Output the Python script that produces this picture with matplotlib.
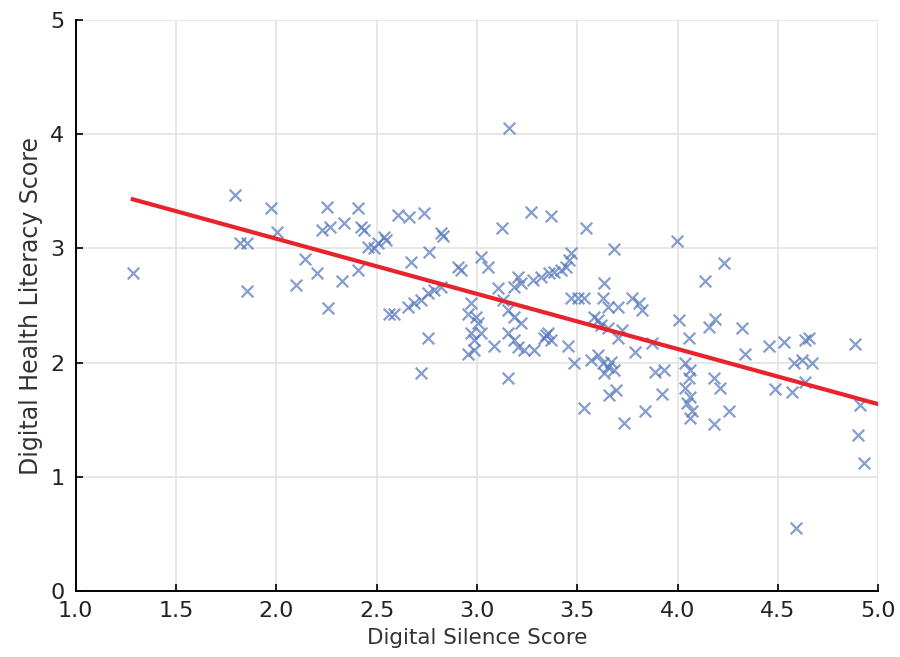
"""Scatter of digital silence vs digital health literacy with a fitted line."""

import numpy as np
from matplotlib import pyplot as plt

# values
silence_score = [
    1.285, 1.795, 1.82, 1.855, 1.855, 1.975, 2.005, 2.10, 2.145, 2.205,
    2.23, 2.255, 2.26, 2.27, 2.325, 2.335, 2.405, 2.405, 2.42, 2.435,
    2.455, 2.485, 2.505, 2.535, 2.545, 2.56, 2.585, 2.605, 2.66, 2.735,
    2.655, 2.685, 2.72, 2.755, 2.785, 2.82, 2.67, 2.76, 2.82, 2.83,
    2.755, 2.72, 2.905, 2.92, 3.02, 3.055, 2.97, 2.955, 2.995, 3.005,
    2.97, 3.02, 2.985, 2.985, 2.955, 3.085, 3.125, 3.16, 3.155, 3.185,
    3.22, 3.155, 3.185, 3.205, 3.235, 3.285, 3.155, 3.205, 3.22, 3.185,
    3.105, 3.13, 3.27, 3.37, 3.28, 3.32, 3.36, 3.385, 3.42, 3.445,
    3.46, 3.47, 3.345, 3.355, 3.335, 3.37, 3.455, 3.485, 3.47, 3.505,
    3.535, 3.545, 3.635, 3.685, 3.63, 3.655, 3.705, 3.77, 3.805, 3.82,
    3.585, 3.605, 3.62, 3.655, 3.72, 3.705, 3.785, 3.57, 3.605, 3.63,
    3.655, 3.67, 3.685, 3.635, 3.695, 3.66, 3.535, 3.73, 3.835, 3.87,
    3.885, 3.93, 3.92, 3.995, 4.005, 4.055, 4.035, 4.06, 4.055, 4.035,
    4.06, 4.045, 4.07, 4.06, 4.135, 4.155, 4.185, 4.18, 4.21, 4.23,
    4.255, 4.18, 4.32, 4.335, 4.455, 4.53, 4.485, 4.57, 4.58, 4.62,
    4.67, 4.635, 4.655, 4.635, 4.59, 4.885, 4.91, 4.90, 4.93,
]
literacy_score = [
    2.78, 3.47, 3.05, 3.05, 2.63, 3.35, 3.14, 2.68, 2.91, 2.78,
    3.16, 3.36, 2.48, 3.19, 2.71, 3.22, 3.35, 2.81, 3.19, 3.16,
    3.01, 3.00, 3.05, 3.10, 3.07, 2.43, 2.43, 3.29, 3.27, 3.31,
    2.49, 2.52, 2.55, 2.61, 2.64, 2.66, 2.88, 2.97, 3.13, 3.11,
    2.22, 1.91, 2.84, 2.81, 2.92, 2.84, 2.52, 2.43, 2.40, 2.35,
    2.26, 2.26, 2.20, 2.11, 2.08, 2.15, 3.18, 4.05, 2.46, 2.40,
    2.35, 2.26, 2.20, 2.14, 2.11, 2.11, 1.87, 2.75, 2.70, 2.66,
    2.65, 2.55, 3.32, 3.28, 2.72, 2.75, 2.78, 2.79, 2.81, 2.84,
    2.90, 2.96, 2.24, 2.26, 2.22, 2.20, 2.15, 2.00, 2.57, 2.57,
    2.57, 3.18, 2.70, 2.99, 2.57, 2.49, 2.49, 2.57, 2.52, 2.46,
    2.40, 2.37, 2.33, 2.30, 2.29, 2.22, 2.09, 2.02, 2.07, 2.00,
    1.96, 2.01, 1.94, 1.91, 1.76, 1.72, 1.60, 1.47, 1.58, 2.17,
    1.92, 1.94, 1.73, 3.06, 2.37, 2.22, 2.00, 1.94, 1.87, 1.78,
    1.70, 1.65, 1.58, 1.52, 2.71, 2.31, 2.38, 1.87, 1.78, 2.87,
    1.58, 1.46, 2.30, 2.08, 2.15, 2.18, 1.77, 1.74, 2.00, 2.02,
    2.00, 2.20, 2.22, 1.83, 0.55, 2.16, 1.63, 1.37, 1.12,
]
x_ticks = [1.0, 1.5, 2.0, 2.5, 3.0, 3.5, 4.0, 4.5, 5.0]
y_ticks = [0, 1, 2, 3, 4, 5]


def plot_scatter():
    """Draw the scatter, the least squares line and save out.png"""
    x = np.array(silence_score)
    y = np.array(literacy_score)

    fig = plt.figure(figsize=(9, 6.57), dpi=100)
    ax = fig.add_axes([0.084, 0.100, 0.892, 0.870])

    ax.scatter(x, y, marker='x', s=70, color='#5577bb', alpha=0.72,
               linewidths=1.6, zorder=3)

    # fitted regression line
    slope, intercept = np.polyfit(x, y, 1)
    line_x = np.linspace(x.min(), x_ticks[-1], 50)
    ax.plot(line_x, slope * line_x + intercept, color='#e8232c',
            linewidth=3, zorder=4)

    ax.set_xlim(x_ticks[0], x_ticks[-1])
    ax.set_ylim(y_ticks[0], y_ticks[-1])
    ax.set_xticks(x_ticks)
    ax.set_yticks(y_ticks)
    ax.tick_params(direction='in', labelsize=16, length=5, width=1.2,
                   labelcolor='#222222')
    ax.tick_params(axis='y', pad=8)
    ax.tick_params(axis='x', pad=7)
    ax.grid(True, color='#e3e3e3', linewidth=1.2)
    ax.set_axisbelow(True)
    for side in ['top', 'right']:
        ax.spines[side].set_visible(False)
    for side in ['left', 'bottom']:
        ax.spines[side].set_linewidth(1.4)

    ax.set_xlabel('Digital Silence Score', fontsize=15.5, color='#333333',
                  labelpad=5)
    ax.set_ylabel('Digital Health Literacy Score', fontsize=17,
                  color='#333333', labelpad=5)

    fig.savefig('out.png', dpi=100)


plot_scatter()
